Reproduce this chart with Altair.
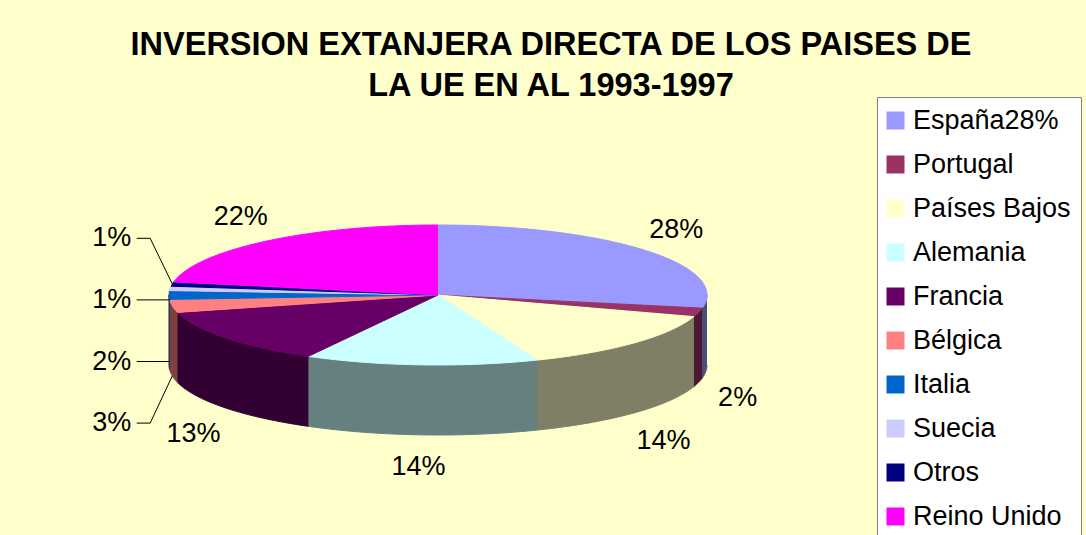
import altair as alt
import pandas as pd

# ---------------- data ----------------
paises = ["España28%", "Portugal", "Países Bajos", "Alemania", "Francia",
          "Bélgica", "Italia", "Suecia", "Otros", "Reino Unido"]
porcentajes = [28, 2, 14, 14, 13, 3, 2, 1, 1, 22]
colores = ["#9999FF", "#993366", "#FFFFCC", "#CCFFFF", "#660066",
           "#FF8080", "#0066CC", "#CCCCFF", "#000080", "#FF00FF"]
titulo = ["INVERSION EXTANJERA DIRECTA DE LOS PAISES DE", "LA UE EN AL 1993-1997"]


def oscuro(h):
    h = h.lstrip("#")
    r, g, b = (int(h[i:i + 2], 16) // 2 for i in (0, 2, 4))
    return f"#{r:02X}{g:02X}{b:02X}"


df = pd.DataFrame({
    "pais": paises,
    "valor": porcentajes,
    "idx": list(range(len(paises))),
    "lado": [oscuro(c) for c in colores],
})

# ---------------- layout (ellipse projection) ----------------
W, H, TOP = 1086, 535, 100
CX, CY = 438.0, 295.0      # centre of pie top (canvas px)
RX, RY = 269.0, 70.0       # semi-axes in px; wall depth = 1 unit of RY
N = 60
FONT = "Liberation Sans"
LBL = 27

xscale = alt.Scale(domain=[-CX / RX, (W - CX) / RX], nice=False, zero=False)
yscale = alt.Scale(domain=[(H - CY) / -RY, (CY - TOP) / RY], nice=False, zero=False)
X = lambda f: alt.X(f, scale=xscale, axis=None)
Y = lambda f: alt.Y(f, scale=yscale, axis=None)

base = alt.Chart(df).transform_window(
    cum="sum(valor)", sort=[alt.SortField("idx")], frame=[None, 0]
).transform_joinaggregate(
    total="sum(valor)"
).transform_calculate(
    a1="2*PI*datum.cum/datum.total",
    a0="2*PI*(datum.cum-datum.valor)/datum.total",
).transform_calculate(
    mid="(datum.a0+datum.a1)/2",
    pct="round(100*datum.valor/datum.total) + '%'",
)

# side walls (front half only)
wall = base.transform_calculate(
    b0="max(datum.a0, PI/2)", b1="min(datum.a1, 3*PI/2)"
).transform_filter("datum.b1 > datum.b0").transform_calculate(
    s=f"sequence(0, {2 * (N + 1)})"
).transform_flatten(["s"]).transform_calculate(
    t=f"datum.s <= {N} ? datum.b0+(datum.b1-datum.b0)*datum.s/{N} : datum.b1-(datum.b1-datum.b0)*(datum.s-{N + 1})/{N}",
).transform_calculate(
    x="sin(datum.t)",
    y=f"datum.s <= {N} ? cos(datum.t) : cos(datum.t) - 1",
).mark_line(strokeWidth=1, interpolate="linear").encode(
    x=X("x:Q"), y=Y("y:Q"), order="s:Q", detail="pais:N",
    fill=alt.Fill("lado:N", scale=None),
    stroke=alt.Stroke("lado:N", scale=None),
)

# top faces
top = base.transform_calculate(
    s=f"sequence(0, {N + 2})"
).transform_flatten(["s"]).transform_calculate(
    t=f"datum.a0+(datum.a1-datum.a0)*(datum.s-1)/{N}"
).transform_calculate(
    x="datum.s == 0 ? 0 : sin(datum.t)",
    y="datum.s == 0 ? 0 : cos(datum.t)",
).mark_line(strokeWidth=1, interpolate="linear").encode(
    x=X("x:Q"), y=Y("y:Q"), order="s:Q", detail="pais:N",
    fill=alt.Fill("pais:N", sort=paises,
                  scale=alt.Scale(domain=paises, range=colores),
                  legend=alt.Legend(
                      title=None, orient="none", legendX=877, legendY=-3,
                      symbolType="square", symbolSize=324, symbolStrokeWidth=0,
                      symbolOffset=-5,
                      labelFont=FONT, labelFontSize=LBL, labelColor="black",
                      labelOffset=4, labelLimit=400, rowPadding=16,
                      padding=10, fillColor="white", strokeColor="#808080")),
    stroke=alt.Stroke("pais:N", scale=alt.Scale(domain=paises, range=colores), legend=None),
)

# labels for larger / right-side slices
big = base.transform_filter(
    "!(datum.valor < 5 && sin(datum.mid) < 0)"
).transform_calculate(
    lx="sin(datum.mid)*1.15",
    ly="cos(datum.mid) >= 0 ? cos(datum.mid)*1.45 : cos(datum.mid)*1.45 - 1 - 0.12*abs(sin(datum.mid))",
)
big_text = big.mark_text(font=FONT, fontSize=LBL, color="black", baseline="middle").encode(
    x=X("lx:Q"), y=Y("ly:Q"), text="pct:N"
)

# small left-hand slices: stacked labels with leader lines
small = base.transform_filter(
    "datum.valor < 5 && sin(datum.mid) < 0"
).transform_window(
    r="row_number()", sort=[alt.SortField("idx", order="descending")]
).transform_calculate(
    ly="0.81 - 0.88*(datum.r-1)",
    lx="-1.14",
)
small_text = small.mark_text(font=FONT, fontSize=LBL, color="black",
                             baseline="middle", align="right").encode(
    x=X("lx:Q"), y=Y("ly:Q"), text="pct:N"
)
leaders = small.transform_calculate(
    s="sequence(0, 3)"
).transform_flatten(["s"]).transform_calculate(
    px="datum.s == 0 ? -1.12 : (datum.s == 1 ? -1.07 : sin(datum.mid))",
    py="datum.s < 2 ? datum.ly : clamp(datum.ly, cos(datum.mid) - 1, cos(datum.mid))",
).mark_line(color="black", strokeWidth=1).encode(
    x=X("px:Q"), y=Y("py:Q"), order="s:Q", detail="pais:N"
)

chart = alt.layer(wall, top, big_text, leaders, small_text).properties(
    width=W, height=H - TOP,
    title=alt.TitleParams(text=titulo, font=FONT, fontSize=32.5, fontWeight="bold",
                          color="black", anchor="middle", dx=8, lineHeight=41,
                          offset=-6),
    background="#FFFFCC",
    padding={"left": 0, "right": 0, "top": TOP, "bottom": 0},
    autosize=alt.AutoSizeParams(type="none"),
).configure_view(stroke=None)

chart.save("out.html", embed_options={"renderer": "svg", "actions": False})
